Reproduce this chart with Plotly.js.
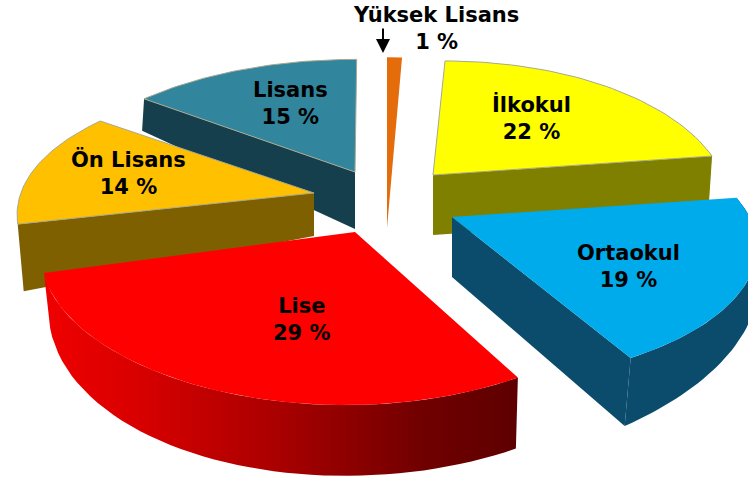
<!DOCTYPE html>
<html><head><meta charset="utf-8">
<script src="https://cdn.plot.ly/plotly-3.0.1.min.js"></script>
<style>html,body{margin:0;padding:0;background:#fff}#c{width:748px;height:477px}</style>
</head><body><div id="c"></div>
<script>
// Data
const categories = ['İlkokul','Ortaokul','Lise','Ön Lisans','Lisans','Yüksek Lisans'];
const percents   = [22,19,29,14,15,1];

// Colours
const topColors  = ['#ffff00','#00abec','#ff0000','#ffc000','#31859c','#e46c0a'];
const wallColors = ['#7f7f00','#0b4c6c','#8b0000','#7f6000','#163f4e','#e46c0a'];

// Slice drawing parameters (projection of each exploded slice)
const cxs  = [433,452,355,314,355,387];
const cys  = [175,217,232,193,172,228];
const centerDx = [0,0,-10,0,0,0];
const centerDy = [0,30,0,0,0,0];
const rxs  = [292,305,320,291,304,304];
const rys  = [145,137,173,138,143,217];
const ks   = [.27,0,0,.19,.27,.27];
const rots = [3,-10.3,-0.3,5.5,4,3.6];
const stretch = [1,1.10,1.04,.95,1,1];
const bulges = [0.02,0,0,0.01,0,0];
const endPinch = [0,0,-0.03,0,0,0];
const depthIn = [60,60,60,43,57,0];
const depthA  = [60,25,71,67,32,0];
const depthB  = [60,68,47,67,32,0];
const shiftA  = [-4,5,-2,6,-2,0];
const shiftB  = [-4,-6,5,6,-2,0];
const depthPow = [1,1,4,1,1,1];
const drawOrder = [4,5,0,3,1,2];

// Label positions
const labelX = [531,628,302,128,290,436];
const labelY = [118,266,319,173,103,28];

const total = percents.reduce((a,b)=>a+b,0);
const starts = []; let acc = 0;
percents.forEach(p=>{starts.push(acc/total*360); acc+=p;});

function proj(i,thetaDeg,r){
  const t=(thetaDeg+rots[i])*Math.PI/180, X=r*Math.sin(t), Y=r*Math.cos(t), s=1/(1+ks[i]*Y);
  return [cxs[i]+centerDx[i]+rxs[i]*X*s, cys[i]+centerDy[i]-rys[i]*Y*s];
}
function arcPts(i,n){
  const a=starts[i], span=percents[i]/total*360, pts=[];
  for(let j=0;j<=n;j++){
    const u=j/n, th=a+span*stretch[i]*u, r=1+bulges[i]*Math.sin(Math.PI*u)+endPinch[i]*Math.pow(u,8);
    pts.push({p:proj(i,th,r),u});
  }
  return pts;
}
function low(i,pt){ // point on the lower rim
  const w=Math.pow(pt.u,depthPow[i]);
  return [pt.p[0]+shiftA[i]+(shiftB[i]-shiftA[i])*w, pt.p[1]+depthA[i]+(depthB[i]-depthA[i])*w];
}
const traces=[];
function poly(pts,color,line,grad){
  const tr={x:pts.map(p=>p[0]),y:pts.map(p=>p[1]),mode:'lines',fill:'toself',
    fillcolor:color,line:{color:line||color,width:line?1:0},hoverinfo:'skip',showlegend:false};
  if(grad) tr.fillgradient=grad;
  traces.push(tr);
}
drawOrder.forEach(i=>{
  const arc=arcPts(i,48), apex=[cxs[i],cys[i]], apexLow=[cxs[i],cys[i]+depthIn[i]];
  const first=arc[0], last=arc[arc.length-1];
  if(i===1||i===2){
    const pts=arc.map(a=>a.p).concat(arc.slice().reverse().map(a=>low(i,a)));
    if(i===2) poly(pts,wallColors[i],null,{type:'horizontal',colorscale:[[0,'#f00000'],[0.2,'#d80000'],[0.5,'#a80000'],[0.8,'#700000'],[1,'#5e0000']]});
    else poly(pts,wallColors[i]);
  }
  if(i===0||i===1) poly([apex,last.p,low(i,last),apexLow],wallColors[i]);
  if(i===3||i===4) poly([apex,first.p,low(i,first),apexLow],wallColors[i]);
  poly([apex].concat(arc.map(a=>a.p)).concat([apex]),topColors[i],i===2||i===1||i===5?null:'#a8a890');
});

const annotations=categories.map((c,i)=>({x:labelX[i],y:labelY[i],xref:'x',yref:'y',showarrow:false,
  text:c+'<br>'+percents[i]+' %',font:{family:'DejaVu Sans',size:21,color:'#000',weight:700},align:'center'}));
annotations.push({x:383,y:53,xref:'x',yref:'y',ax:383,ay:27,axref:'x',ayref:'y',text:'',showarrow:true,
  arrowhead:2,arrowsize:1.4,arrowwidth:2,arrowcolor:'#000'});

Plotly.newPlot('c',traces,{
  width:748,height:477,margin:{l:0,r:0,t:0,b:0},paper_bgcolor:'#fff',plot_bgcolor:'#fff',showlegend:false,
  xaxis:{range:[0,748],visible:false,fixedrange:true},
  yaxis:{range:[477,0],visible:false,fixedrange:true},
  annotations
},{displayModeBar:false,staticPlot:true});
</script></body></html>
